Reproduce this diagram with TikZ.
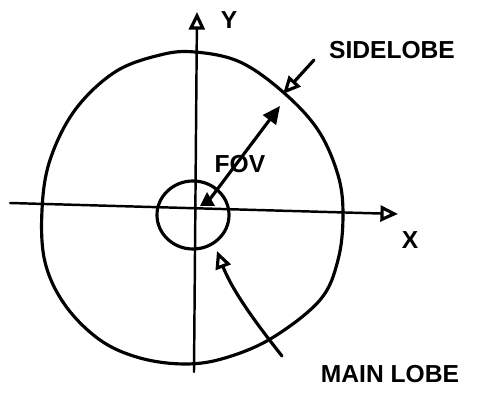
\documentclass[tikz,border=0pt]{standalone}
\usepackage{fontspec}
\setmainfont{Liberation Sans}
\usetikzlibrary{arrows.meta}
\begin{document}
\begin{tikzpicture}[x=0.02cm,y=-0.02cm,
  pen/.style={line width=1.8pt,line cap=round,line join=round},
  axis/.style={line width=1.4pt,line cap=round},
  opentip/.style={-{Triangle[open,length=10pt,width=9pt,line width=1.8pt]}},
  filltip/.style={-{Triangle[length=10pt,width=9pt]}},
  lbl/.style={font=\bfseries\fontsize{14}{16}\selectfont,inner sep=1pt}]
\useasboundingbox (0,0) rectangle (491,395);
% axes
\coordinate (xs) at (10,203);
\coordinate (xe) at (398,214);
\coordinate (ys) at (194,372);
\coordinate (ye) at (197,12);
\draw[axis,opentip] (xs) -- (xe);
\draw[axis,opentip] (ys) -- (ye);
\node[lbl] (ylab) at (229,20) {Y};
\node[lbl] (xlab) at (410,240) {X};
% main blob
\draw[pen] plot[smooth cycle,tension=0.6] coordinates {
 (195,52) (240,62) (283,92) (318,130) (338,175) (343,215) (338,260)
 (320,300) (272,338) (225,358) (185,364) (140,358) (100,340) (65,305)
 (45,262) (42,210) (50,160) (75,110) (115,72) (160,55)};
% small circle
\draw[pen] (193,215) ellipse [x radius=36, y radius=34];
% FOV arrow
\coordinate (fo) at (207,203);
\coordinate (fe) at (280,106);
\draw[pen,filltip] (fo) -- (fe);
\fill (200,206) -- (207,192) -- (215,206) -- cycle;
\node[lbl] (fov) at (240,164) {FOV};
% sidelobe
\node[lbl] (side) at (392,50) {SIDELOBE};
\coordinate (st) at (314,60);
\coordinate (sh) at (283,94);
\draw[pen,opentip] (st) -- (sh);
% main lobe
\node[lbl] (main) at (390,374) {MAIN LOBE};
\coordinate (mt) at (282,356);
\coordinate (mh) at (217,251);
\draw[pen,opentip] (mt) .. controls (255,322) and (232,290) .. (mh);
\end{tikzpicture}
\end{document}
